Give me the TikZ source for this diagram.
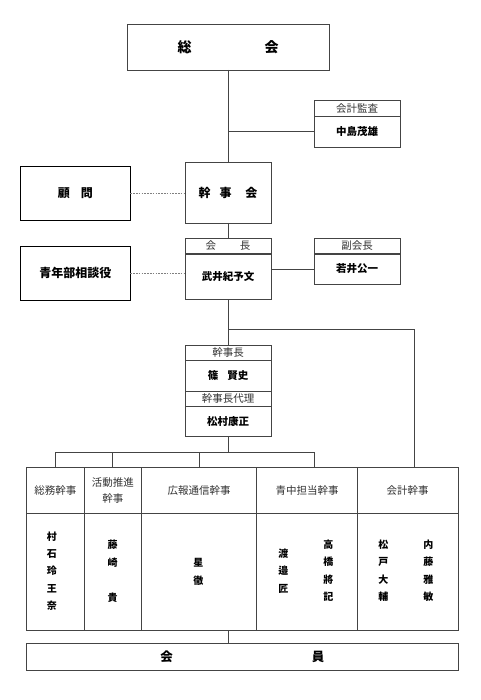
\documentclass[tikz,border=0pt]{standalone}
\usepackage{fontspec}
\newfontfamily\jp{Noto Sans CJK JP}
\definecolor{lc}{HTML}{444444}
\definecolor{tc}{HTML}{333333}
\begin{document}
\begin{tikzpicture}[x=1pt,y=-1pt,
  box/.style={draw=lc,line width=0.9pt,inner sep=0pt,outer sep=0pt,fill=white},
  bbox/.style={draw=black,line width=1pt,inner sep=0pt,outer sep=0pt,fill=white},
  ln/.style={draw=lc,line width=0.9pt},
  dl/.style={draw=gray,line width=0.5pt,dash pattern=on 1.6pt off 1.2pt},
  nm/.style={font=\jp\bfseries\fontsize{10.5}{12}\selectfont},
  big/.style={font=\jp\bfseries\fontsize{12}{14}\selectfont},
  hd/.style={font=\jp\fontsize{10.5}{12}\selectfont,text=tc},
  col/.style={font=\jp\bfseries\fontsize{10}{17.4}\selectfont,align=center,inner sep=0pt},
]
\useasboundingbox[fill=white] (0,0) rectangle (480,700);

% top
\node[box,minimum width=202pt,minimum height=46pt,font=\jp\bfseries\fontsize{14}{16}\selectfont] (soukai) at (228,47) {総\hspace{73pt}会};
\node[box,hd,minimum width=86pt,minimum height=16pt] (kansaH) at (357,108.3) {会計監査};
\node[box,nm,minimum width=86pt,minimum height=31pt] (kansaB) at (357,131.5) {中島茂雄};
\node[bbox,big,minimum width=110pt,minimum height=54pt] (komon) at (75.3,193.3) {顧\hspace{11pt}問};
\node[box,big,minimum width=86pt,minimum height=61pt] (kanjikai) at (228,192.5) {幹\hspace{9pt}事\hspace{14pt}会};

\node[box,hd,minimum width=86pt,minimum height=15.5pt] (kaichoH) at (228,246) {会\hspace{24pt}長};
\node[box,nm,minimum width=86pt,minimum height=45pt] (kaichoB) at (228,276.5) {武井紀予文};
\node[box,hd,minimum width=86pt,minimum height=15.5pt] (fukuH) at (357,246) {副会長};
\node[box,nm,minimum width=86pt,minimum height=30pt] (fukuB) at (357,269) {\raisebox{2pt}{若井公一}};
\node[bbox,big,minimum width=110pt,minimum height=54pt] (seinen) at (75.3,273.3) {青年部相談役};

\node[box,hd,minimum width=86pt,minimum height=14.6pt] (kjH) at (228,353) {幹事長};
\node[box,nm,minimum width=86pt,minimum height=30.7pt] (kjB) at (228,375.7) {篠\hspace{9pt}賢史};
\node[box,hd,minimum width=86pt,minimum height=15.7pt] (drH) at (228,398.8) {幹事長代理};
\node[box,nm,minimum width=86pt,minimum height=30pt] (drB) at (228,421.7) {松村康正};

% table
\node[box,hd,minimum width=57.3pt,minimum height=45.6pt] (h1) at (55.35,490.5) {総務幹事};
\node[box,hd,minimum width=57.7pt,minimum height=45.6pt,align=center,font=\jp\fontsize{10.5}{16.6}\selectfont] (h2) at (112.85,490.5) {活動推進\\幹事};
\node[box,hd,minimum width=115pt,minimum height=45.6pt] (h3) at (199.2,490.5) {広報通信幹事};
\node[box,hd,minimum width=100.6pt,minimum height=45.6pt] (h4) at (307,490.5) {青中担当幹事};
\node[box,hd,minimum width=100.7pt,minimum height=45.6pt] (h5) at (407.65,490.5) {会計幹事};
\node[box,minimum width=57.3pt,minimum height=116.7pt] (b1) at (55.35,571.65) {};
\node[box,minimum width=57.7pt,minimum height=116.7pt] (b2) at (112.85,571.65) {};
\node[box,minimum width=115pt,minimum height=116.7pt] (b3) at (199.2,571.65) {};
\node[box,minimum width=100.6pt,minimum height=116.7pt] (b4) at (307,571.65) {};
\node[box,minimum width=100.7pt,minimum height=116.7pt] (b5) at (407.65,571.65) {};

\node[col] (n1) at (51.8,571) {村\\石\\玲\\王\\奈};
\node[col] (n2) at (112.7,571.3) {藤\\崎\\\\貴};
\node[col] (n3) at (198.3,571.7) {星\\徹};
\node[col] (n4a) at (283.3,570.8) {渡\\邉\\匠};
\node[col] (n4b) at (328.3,570.7) {高\\橋\\將\\記};
\node[col] (n5a) at (383.3,570.7) {松\\戸\\大\\輔};
\node[col] (n5b) at (428.3,570.7) {内\\藤\\雅\\敏};

\node[box,minimum width=431.3pt,minimum height=27.4pt,font=\jp\bfseries\fontsize{12.5}{14}\selectfont] (kaiin) at (242.35,657) {会\hspace{139pt}員};

% connectors
\draw[ln] (soukai.south) -- (kanjikai.north);
\draw[ln] (soukai.south |- kansaB.west) -- (kansaB.west);
\draw[dl] (komon.east) -- (komon.east -| kanjikai.west);
\draw[ln] (kanjikai.south) -- (kaichoH.north);
\draw[ln] (kaichoB.east |- fukuB.west) -- (fukuB.west);
\draw[dl] (seinen.east) -- (seinen.east -| kaichoB.west);
\draw[ln] (kaichoB.south) -- (kjH.north);
\coordinate (br) at (228,329.7);
\coordinate (brR) at (414.7,329.7);
\draw[ln] (br) -- (brR) -- (brR |- h5.north);
\coordinate (bus) at (228,452);
\coordinate (busL) at (55.35,452);
\coordinate (busR) at (314,452);
\draw[ln] (drB.south) -- (bus);
\draw[ln] (busL) -- (busR);
\draw[ln] (busL) -- (h1.north);
\draw[ln] (112.85,452) -- (h2.north);
\draw[ln] (199.2,452) -- (h3.north);
\draw[ln] (busR) -- (busR |- h4.north);
\coordinate (tb) at (228,630);
\draw[ln] (tb) -- (tb |- kaiin.north);
\end{tikzpicture}
\end{document}
